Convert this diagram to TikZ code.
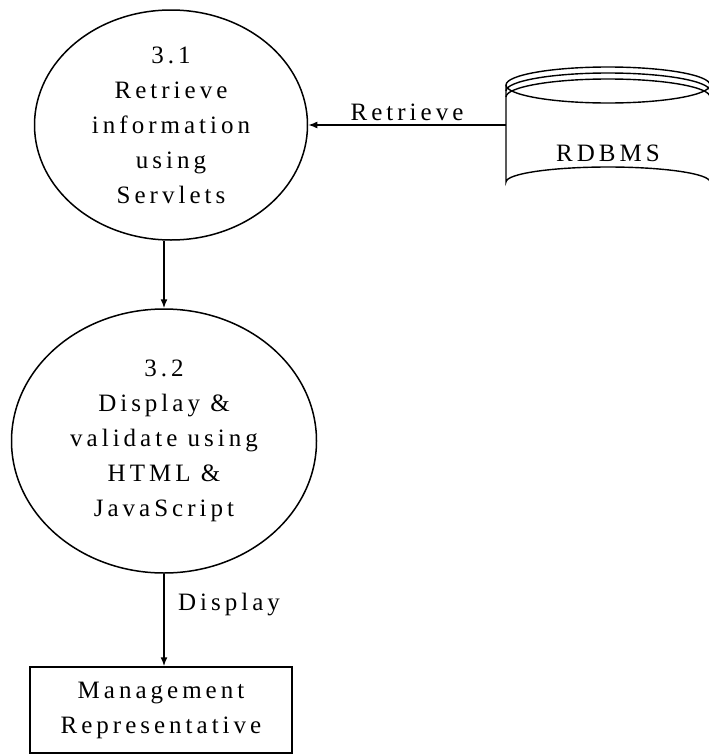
\documentclass[tikz,border=0pt]{standalone}
\usepackage{fontspec}
\setmainfont{Liberation Serif}[LetterSpace=16]
\usetikzlibrary{arrows.meta,shapes.geometric}
\begin{document}
\begin{tikzpicture}[x=1pt,y=-1pt,
  every node/.style={font=\fontsize{25}{35}\selectfont},
  process/.style={draw, ellipse, line width=1.5pt, inner sep=0pt, align=center},
  entity/.style={draw, rectangle, line width=1.5pt, inner sep=0pt, align=center},
  flow/.style={line width=1.5pt, -{Latex[length=9pt,width=7pt]}},
  dbline/.style={line width=1.4pt}]
\useasboundingbox (0,0) rectangle (709,755);
\clip (0,0) rectangle (709,755);

\node[process, minimum width=273pt, minimum height=230pt] (p1) at (171,125)
  {3.1\\Retrieve\\information\\using\\Servlets};
\node[process, minimum width=305pt, minimum height=264pt] (p2) at (164,441)
  {3.2\\Display \&\\validate using\\HTML \&\\JavaScript};
\node[entity, minimum width=262pt, minimum height=86pt] (mr) at (161,710)
  {Management\\Representative};

% database cylinder
\draw[dbline] (608,85) ellipse [x radius=102, y radius=18];
\draw[dbline] (506,91) arc[start angle=180, end angle=360, x radius=102, y radius=18];
\draw[dbline] (506,97) arc[start angle=180, end angle=360, x radius=102, y radius=18];
\draw[dbline] (506,85) -- (506,182)
  arc[start angle=180, end angle=360, x radius=102, y radius=15] -- (710,85);
\node[inner sep=0pt, minimum width=204pt] (db) at (608,153) {RDBMS};

\draw[flow] (db.west |- p1.east) -- node[above, inner sep=4pt] (rl) {Retrieve} (p1.east);
\draw[flow] (p1.south -| p2.north) -- (p2.north);
\draw[flow] (p2.south) -- node[pos=0.33, anchor=west, xshift=10pt] (dl) {Display} (mr.north -| p2.south);
\end{tikzpicture}
\end{document}
